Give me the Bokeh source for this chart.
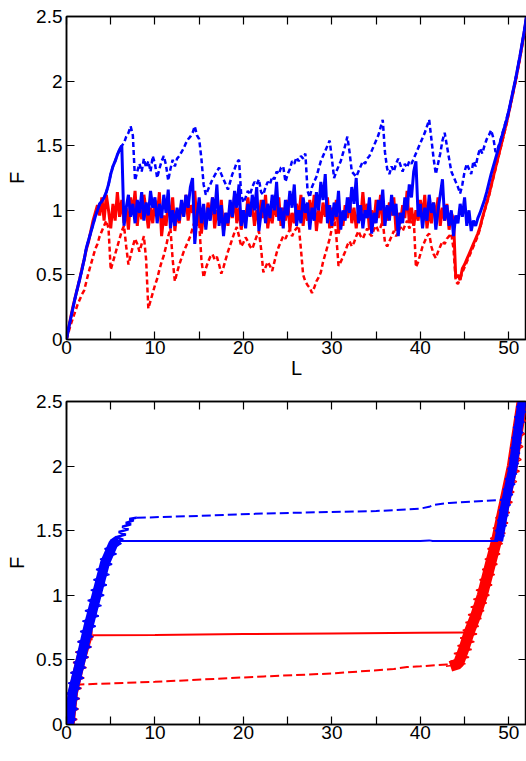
from bokeh.plotting import figure
from bokeh.models import Range1d, LinearAxis, FixedTicker, NumeralTickFormatter, CustomJSTickFormatter, Label
from bokeh.layouts import column
from bokeh.embed import file_html
from bokeh.resources import INLINE

# ---------------- data: upper panel (sampled every 0.25 in L, 0 .. 52) ----------------
L_top = [i * 0.25 for i in range(209)]

F_blue_solid_top = [
    0.00, 0.09, 0.17, 0.25, 0.33, 0.40, 0.47, 0.54, 0.62, 0.71, 0.77, 0.83,
    0.89, 0.95, 1.00, 1.05, 1.07, 1.10, 1.14, 1.20, 1.28, 1.34, 1.38, 1.43,
    1.47, 1.50, 0.88, 1.02, 1.12, 0.95, 1.05, 0.90, 1.08, 0.98, 1.14, 0.92,
    1.06, 0.96, 1.15, 1.02, 1.10, 0.90, 1.05, 0.94, 1.12, 0.98, 1.16, 0.86,
    1.00, 0.88, 1.02, 0.92, 1.08, 0.95, 1.12, 1.02, 1.18, 1.25, 0.74, 0.95,
    1.10, 0.90, 1.05, 0.85, 1.02, 0.92, 1.10, 0.97, 1.20, 0.88, 1.04, 0.80,
    0.98, 0.90, 1.08, 0.95, 1.15, 1.02, 1.20, 0.88, 1.00, 0.86, 1.05, 0.95,
    1.12, 1.00, 1.18, 0.84, 0.98, 1.08, 0.90, 1.05, 0.94, 1.12, 1.00, 1.22,
    0.92, 1.02, 0.86, 1.08, 0.96, 1.15, 1.02, 1.20, 0.88, 1.00, 0.90, 1.10,
    0.98, 1.06, 0.85, 1.02, 0.92, 1.14, 1.00, 1.22, 1.08, 1.28, 0.90, 1.04,
    0.88, 1.06, 0.95, 1.15, 0.85, 1.00, 0.92, 1.10, 0.98, 1.18, 1.05, 1.25,
    0.90, 1.04, 0.86, 1.00, 0.94, 1.10, 0.82, 0.98, 0.90, 1.08, 1.00, 1.16,
    0.88, 1.04, 0.92, 1.12, 0.96, 1.05, 0.80, 0.98, 0.90, 1.10, 1.00, 1.20,
    1.10, 1.30, 1.38, 0.95, 1.05, 0.86, 1.02, 0.92, 1.12, 0.98, 1.06, 0.85,
    1.00, 1.12, 1.24, 0.92, 1.04, 0.88, 1.00, 0.80, 0.96, 0.90, 1.05, 0.95,
    1.10, 0.88, 1.00, 0.84, 0.92, 0.88, 0.94, 0.98, 1.03, 1.08, 1.14, 1.21,
    1.28, 1.34, 1.40, 1.46, 1.52, 1.58, 1.64, 1.70, 1.77, 1.85, 1.93, 2.01,
    2.10, 2.19, 2.29, 2.39, 2.50,
]

F_blue_dash_top = [
    0.00, 0.09, 0.17, 0.25, 0.33, 0.40, 0.47, 0.54, 0.62, 0.71, 0.77, 0.83,
    0.89, 0.95, 1.00, 1.05, 1.07, 1.10, 1.14, 1.20, 1.28, 1.34, 1.38, 1.43,
    1.47, 1.50, 1.52, 1.57, 1.60, 1.65, 1.58, 1.23, 1.30, 1.36, 1.30, 1.40,
    1.33, 1.38, 1.30, 1.42, 1.36, 1.25, 1.32, 1.38, 1.42, 1.35, 1.23, 1.32,
    1.39, 1.34, 1.40, 1.42, 1.45, 1.48, 1.52, 1.55, 1.57, 1.60, 1.65, 1.58,
    1.55, 1.40, 1.20, 1.12, 1.16, 1.20, 1.24, 1.27, 1.30, 1.33, 1.28, 1.24,
    1.20, 1.16, 1.22, 1.28, 1.32, 1.37, 1.39, 1.12, 1.06, 1.10, 1.15, 1.12,
    1.18, 1.22, 1.20, 1.24, 1.14, 1.12, 1.18, 1.22, 1.20, 1.26, 1.24, 1.30,
    1.28, 1.33, 1.34, 1.22, 1.28, 1.32, 1.38, 1.36, 1.41, 1.38, 1.42, 1.40,
    1.44, 1.15, 1.10, 1.18, 1.22, 1.26, 1.32, 1.38, 1.42, 1.46, 1.50, 1.54,
    1.40, 1.25, 1.30, 1.34, 1.38, 1.44, 1.50, 1.57, 1.45, 1.30, 1.28, 1.26,
    1.30, 1.34, 1.38, 1.36, 1.40, 1.42, 1.46, 1.50, 1.54, 1.58, 1.64, 1.70,
    1.45, 1.32, 1.28, 1.34, 1.30, 1.36, 1.40, 1.35, 1.30, 1.36, 1.33, 1.38,
    1.36, 1.40, 1.44, 1.48, 1.52, 1.56, 1.60, 1.65, 1.70, 1.55, 1.40, 1.28,
    1.36, 1.44, 1.54, 1.60, 1.50, 1.40, 1.30, 1.26, 1.22, 1.18, 1.13, 1.20,
    1.30, 1.36, 1.32, 1.28, 1.38, 1.34, 1.42, 1.48, 1.44, 1.50, 1.55, 1.58,
    1.62, 1.56, 1.45, 1.48, 1.53, 1.59, 1.65, 1.71, 1.77, 1.85, 1.93, 2.01,
    2.10, 2.19, 2.29, 2.39, 2.50,
]

F_red_solid_top = [
    0.00, 0.09, 0.18, 0.26, 0.33, 0.40, 0.47, 0.55, 0.62, 0.70, 0.76, 0.84,
    0.92, 0.98, 1.04, 0.96, 1.10, 0.92, 1.12, 1.00, 0.86, 1.05, 0.92, 1.14,
    0.95, 1.08, 0.90, 1.02, 0.85, 1.10, 0.98, 1.15, 0.88, 1.05, 0.93, 1.12,
    1.00, 0.86, 1.02, 0.90, 1.08, 0.95, 1.14, 0.80, 0.96, 0.88, 1.06, 0.94,
    1.10, 0.84, 1.00, 0.90, 1.06, 0.96, 1.12, 0.92, 1.04, 0.98, 1.15, 0.88,
    1.02, 0.82, 0.98, 0.90, 1.06, 0.94, 1.10, 0.86, 1.00, 0.92, 1.08, 0.84,
    0.98, 0.88, 1.04, 0.94, 1.12, 0.90, 1.02, 0.85, 0.98, 0.92, 1.10, 0.96,
    1.05, 0.88, 1.00, 0.90, 1.08, 0.94, 1.12, 0.86, 1.00, 0.90, 1.06, 0.95,
    1.10, 0.88, 1.02, 0.92, 1.08, 0.85, 0.98, 0.90, 1.05, 0.94, 1.12, 0.88,
    1.02, 0.92, 1.08, 0.96, 1.12, 0.84, 1.00, 0.90, 1.06, 0.95, 1.10, 0.86,
    1.02, 0.92, 1.08, 0.82, 0.98, 0.88, 1.04, 0.94, 1.10, 0.90, 1.02, 0.86,
    1.00, 0.92, 1.14, 0.95, 1.05, 0.85, 1.00, 0.90, 1.08, 0.94, 1.12, 0.88,
    1.02, 0.92, 1.06, 0.96, 1.10, 0.84, 0.98, 0.90, 1.04, 0.94, 1.15, 0.90,
    1.02, 0.88, 1.00, 0.92, 1.08, 0.95, 1.12, 0.86, 1.00, 0.90, 1.06, 0.94,
    1.10, 0.88, 1.02, 0.92, 1.05, 0.85, 0.98, 0.93, 0.48, 0.50, 0.46, 0.55,
    0.58, 0.62, 0.66, 0.70, 0.74, 0.78, 0.82, 0.87, 0.94, 1.00, 1.06, 1.12,
    1.19, 1.26, 1.33, 1.40, 1.47, 1.54, 1.61, 1.68, 1.76, 1.84, 1.92, 2.00,
    2.09, 2.18, 2.28, 2.38, 2.49,
]

F_red_dash_top = [
    0.00, 0.06, 0.12, 0.17, 0.22, 0.27, 0.31, 0.35, 0.38, 0.45, 0.52, 0.58,
    0.64, 0.70, 0.74, 0.80, 0.84, 0.88, 0.92, 0.86, 0.54, 0.60, 0.66, 0.72,
    0.78, 0.84, 0.88, 0.72, 0.58, 0.65, 0.72, 0.78, 0.74, 0.68, 0.74, 0.80,
    0.62, 0.24, 0.30, 0.36, 0.42, 0.47, 0.54, 0.60, 0.65, 0.72, 0.80, 0.86,
    0.62, 0.45, 0.52, 0.58, 0.63, 0.68, 0.72, 0.76, 0.80, 0.86, 0.92, 0.98,
    0.90, 0.62, 0.48, 0.55, 0.60, 0.64, 0.66, 0.62, 0.64, 0.58, 0.51, 0.56,
    0.62, 0.68, 0.73, 0.78, 0.83, 0.87, 0.80, 0.72, 0.75, 0.79, 0.76, 0.72,
    0.70, 0.75, 0.80, 0.84, 0.70, 0.52, 0.56, 0.60, 0.57, 0.53, 0.60, 0.67,
    0.72, 0.76, 0.80, 0.78, 0.82, 0.85, 0.80, 0.84, 0.86, 0.88, 0.70, 0.50,
    0.45, 0.42, 0.40, 0.36, 0.40, 0.45, 0.48, 0.52, 0.60, 0.66, 0.72, 0.78,
    0.86, 0.95, 0.80, 0.57, 0.60, 0.64, 0.68, 0.73, 0.76, 0.72, 0.75, 0.80,
    0.84, 0.80, 0.78, 0.82, 0.86, 0.82, 0.80, 0.85, 0.88, 0.84, 0.87, 0.92,
    0.75, 0.72, 0.76, 0.80, 0.84, 0.80, 0.83, 0.87, 0.84, 0.88, 0.92, 0.86,
    0.90, 0.94, 0.56, 0.60, 0.66, 0.72, 0.76, 0.80, 0.82, 0.72, 0.66, 0.63,
    0.68, 0.72, 0.76, 0.74, 0.78, 0.80, 0.82, 0.70, 0.45, 0.43, 0.47, 0.52,
    0.56, 0.60, 0.64, 0.68, 0.72, 0.76, 0.80, 0.86, 0.93, 0.99, 1.05, 1.11,
    1.18, 1.25, 1.32, 1.39, 1.46, 1.53, 1.60, 1.67, 1.75, 1.83, 1.91, 1.99,
    2.08, 2.17, 2.27, 2.37, 2.48,
]

# ---------------- data: lower panel ----------------
# steep noisy branches: a centre line plus the spiky scatter of the dense data
blue_lo_center_L = [0.30, 0.70, 1.60, 2.45, 3.40, 4.35, 5.30, 5.90]
blue_lo_center_F = [0.00, 0.25, 0.50, 0.75, 1.00, 1.25, 1.40, 1.43]
blue_lo_spike_L = [0.05, 1.10, 0.00, 1.30, 0.00, 1.45, 0.00, 1.60, 0.20, 1.95, 0.45, 2.20,
                   0.80, 2.45, 1.05, 2.80, 1.25, 3.00, 1.55, 3.30, 1.80, 3.65, 2.10, 3.95,
                   2.40, 4.25, 2.75, 4.55, 3.05, 4.85, 3.35, 5.15, 3.80, 5.65, 4.30, 6.20, 5.00]
blue_lo_spike_F = [0.00, 0.04, 0.08, 0.12, 0.16, 0.20, 0.24, 0.28, 0.32, 0.36, 0.40, 0.44,
                   0.48, 0.52, 0.56, 0.60, 0.64, 0.68, 0.72, 0.76, 0.80, 0.84, 0.88, 0.92,
                   0.96, 1.00, 1.04, 1.08, 1.12, 1.16, 1.20, 1.24, 1.28, 1.32, 1.36, 1.40, 1.43]

blue_hi_center_L = [48.85, 49.60, 50.50, 50.97, 51.50, 51.70]
blue_hi_center_F = [1.42, 1.71, 2.00, 2.25, 2.50, 2.60]
blue_hi_spike_L = [48.30, 49.50, 48.45, 49.75, 48.70, 49.95, 48.90, 50.20, 49.10, 50.45,
                   49.35, 50.70, 49.60, 50.90, 49.85, 51.10, 50.05, 51.25, 50.20, 51.40,
                   50.35, 51.60, 50.50, 51.75, 50.65, 51.95, 50.85, 52.10, 51.00, 52.20]
blue_hi_spike_F = [1.42, 1.46, 1.50, 1.54, 1.58, 1.62, 1.66, 1.70, 1.74, 1.78,
                   1.82, 1.86, 1.90, 1.94, 1.98, 2.02, 2.06, 2.10, 2.14, 2.18,
                   2.22, 2.26, 2.30, 2.34, 2.38, 2.42, 2.46, 2.50, 2.54, 2.58]

red_lo_center_L = [0.35, 0.75, 1.60, 2.40, 2.95]
red_lo_center_F = [0.00, 0.25, 0.50, 0.69, 0.69]
red_lo_spike_L = [0.00, 1.20, 0.00, 1.35, 0.00, 1.50, 0.00, 1.70, 0.25, 2.00, 0.50, 2.25,
                  0.75, 2.50, 1.00, 2.80, 1.30, 3.10]
red_lo_spike_F = [0.00, 0.04, 0.08, 0.12, 0.16, 0.20, 0.24, 0.28, 0.32, 0.36, 0.40, 0.44,
                  0.48, 0.52, 0.56, 0.60, 0.64, 0.68]

red_hi_center_L = [43.4, 44.3, 45.0, 45.5, 46.3, 47.0, 47.95, 48.6, 49.5, 50.4, 50.95, 51.5, 51.75]
red_hi_center_F = [0.45, 0.47, 0.60, 0.71, 0.85, 1.00, 1.25, 1.42, 1.71, 2.00, 2.25, 2.50, 2.60]
red_hi_spike_L = [42.9, 45.1, 43.4, 45.5, 43.8, 45.8, 44.2, 46.1, 44.5, 46.4, 44.8, 46.6,
                  45.1, 46.9, 45.4, 47.2, 45.7, 47.5, 46.0, 47.8, 46.3, 48.1, 46.7, 48.4,
                  47.0, 48.7, 47.3, 49.0, 47.6, 49.3, 47.9, 49.6, 48.2, 49.9, 48.5, 50.1,
                  48.8, 50.4, 49.1, 50.6, 49.4, 50.9, 49.7, 51.2, 50.0, 51.4, 50.3, 51.6,
                  50.5, 51.8, 50.7, 51.95, 50.9, 52.1, 51.1, 52.2, 51.3]
red_hi_spike_F = [0.45, 0.47, 0.49, 0.52, 0.55, 0.58, 0.61, 0.64, 0.67, 0.70, 0.73, 0.76,
                  0.79, 0.82, 0.85, 0.88, 0.91, 0.94, 0.97, 1.00, 1.04, 1.08, 1.12, 1.16,
                  1.20, 1.24, 1.28, 1.32, 1.36, 1.40, 1.44, 1.48, 1.52, 1.56, 1.60, 1.64,
                  1.68, 1.72, 1.76, 1.80, 1.84, 1.88, 1.92, 1.96, 2.00, 2.05, 2.10, 2.15,
                  2.20, 2.25, 2.30, 2.35, 2.40, 2.45, 2.50, 2.55, 2.60]

# plateaus
blue_solid_flat_L = [5.6, 6.6, 20.0, 40.0, 41.0, 41.4, 48.8]
blue_solid_flat_F = [1.42, 1.42, 1.42, 1.42, 1.425, 1.42, 1.42]

blue_dash_rise_L = [5.2, 6.4, 5.6, 6.7, 5.9, 7.0, 6.3, 7.3, 6.7, 7.6, 7.1, 7.9, 7.95]
blue_dash_rise_F = [1.40, 1.43, 1.45, 1.47, 1.49, 1.51, 1.53, 1.55, 1.56, 1.58, 1.59, 1.60, 1.60]

blue_dash_flat_L = [7.95, 15.0, 22.3, 30.0, 35.0, 39.9, 41.0, 41.5, 43.3, 46.0, 48.6, 49.4]
blue_dash_flat_F = [1.60, 1.615, 1.633, 1.645, 1.652, 1.67, 1.685, 1.70, 1.715, 1.725, 1.736, 1.74]

red_solid_flat_L = [2.95, 10.0, 20.0, 30.0, 40.0, 45.1]
red_solid_flat_F = [0.69, 0.693, 0.70, 0.705, 0.71, 0.712]

red_dash_flat_L = [1.0, 1.6, 10.0, 22.3, 30.0, 37.0, 38.5, 40.0, 43.0, 44.6]
red_dash_flat_F = [0.31, 0.31, 0.33, 0.372, 0.395, 0.43, 0.445, 0.45, 0.465, 0.47]

x_ticks = [0, 10, 20, 30, 40, 50]
x_minor = [5, 15, 25, 35, 45]
y_ticks = [0, 0.5, 1, 1.5, 2, 2.5]

RED = "#ff0000"
BLUE = "#0000ff"
FONT = "Liberation Sans"


def style_axis(ax, show_labels):
    ax.major_tick_in = 8
    ax.major_tick_out = 0
    ax.minor_tick_in = 8
    ax.minor_tick_out = 0
    ax.axis_line_color = "black"
    ax.axis_line_width = 1.5
    ax.major_tick_line_color = "black"
    ax.major_tick_line_width = 1.2
    ax.minor_tick_line_color = "black"
    ax.minor_tick_line_width = 1.2
    if show_labels:
        ax.major_label_text_font = FONT
        ax.major_label_text_font_size = "19px"
        ax.major_label_text_color = "black"
        ax.axis_label_text_font = FONT
        ax.axis_label_text_font_size = "20px"
        ax.axis_label_text_font_style = "normal"
        ax.axis_label_text_color = "black"
    else:
        ax.major_label_text_font_size = "0px"
        ax.major_label_standoff = 0
        ax.formatter = CustomJSTickFormatter(code="return ''")


def make_fig(min_top, min_bottom, xlabel):
    p = figure(frame_width=460, frame_height=323,
               x_range=Range1d(0, 52), y_range=Range1d(0, 2.5),
               output_backend="svg", toolbar_location=None,
               min_border_left=66, min_border_right=0,
               min_border_top=min_top, min_border_bottom=min_bottom,
               x_axis_label=xlabel, y_axis_label="F")
    p.grid.visible = False
    p.outline_line_color = "black"
    p.outline_line_width = 1.5
    p.background_fill_color = "white"
    p.border_fill_color = "white"

    xt = FixedTicker(ticks=x_ticks, minor_ticks=x_minor)
    yt = FixedTicker(ticks=y_ticks, minor_ticks=[])
    p.xaxis.ticker = xt
    p.yaxis.ticker = yt
    p.xaxis.formatter = NumeralTickFormatter(format="0")
    p.yaxis.formatter = NumeralTickFormatter(format="0.[0]")
    for ax in p.xaxis + p.yaxis:
        style_axis(ax, True)
    p.xaxis.major_label_standoff = 1
    p.xaxis.axis_label_standoff = 0
    p.yaxis.major_label_standoff = 4
    p.yaxis.axis_label_standoff = 5

    top = LinearAxis(ticker=FixedTicker(ticks=x_ticks, minor_ticks=x_minor))
    right = LinearAxis(ticker=FixedTicker(ticks=y_ticks, minor_ticks=[]))
    style_axis(top, False)
    style_axis(right, False)
    p.add_layout(top, "above")
    p.add_layout(right, "right")
    return p


# ---------------- upper panel ----------------
p1 = make_fig(16, 47, "L")
p1.line(L_top, F_red_dash_top, line_color=RED, line_width=2.5, line_dash="5 3")
p1.line(L_top, F_red_solid_top, line_color=RED, line_width=3)
p1.line(L_top, F_blue_dash_top, line_color=BLUE, line_width=2.5, line_dash="5 3")
p1.line(L_top, F_blue_solid_top, line_color=BLUE, line_width=3)

# ---------------- lower panel ----------------
p2 = make_fig(15, 37, None)
p2.line(red_dash_flat_L, red_dash_flat_F, line_color=RED, line_width=2, line_dash="9 4")
p2.line(red_solid_flat_L, red_solid_flat_F, line_color=RED, line_width=2)
p2.line(red_lo_spike_L, red_lo_spike_F, line_color=RED, line_width=1.5)
p2.line(red_lo_center_L, red_lo_center_F, line_color=RED, line_width=10)
p2.line(red_hi_spike_L, red_hi_spike_F, line_color=RED, line_width=1.5)
p2.line(red_hi_center_L, red_hi_center_F, line_color=RED, line_width=11)
p2.line(blue_dash_flat_L, blue_dash_flat_F, line_color=BLUE, line_width=2, line_dash="9 4")
p2.line(blue_dash_rise_L, blue_dash_rise_F, line_color=BLUE, line_width=2.5)
p2.line(blue_solid_flat_L, blue_solid_flat_F, line_color=BLUE, line_width=2)
p2.line(blue_lo_spike_L, blue_lo_spike_F, line_color=BLUE, line_width=1.5)
p2.line(blue_lo_center_L, blue_lo_center_F, line_color=BLUE, line_width=10)
p2.line(blue_hi_spike_L, blue_hi_spike_F, line_color=BLUE, line_width=1.5)
p2.line(blue_hi_center_L, blue_hi_center_F, line_color=BLUE, line_width=9)
p2.add_layout(Label(x=26, y=-0.112, text="L", text_align="center", text_baseline="top",
                    text_font=FONT, text_font_size="19px", text_color="black"))

layout = column(p1, p2, spacing=0)

html = file_html(layout, INLINE)
html = html.replace("<head>", "<head><style>html,body{margin:0;padding:0;overflow:hidden;}</style>", 1)
open("out.html", "w").write(html)
